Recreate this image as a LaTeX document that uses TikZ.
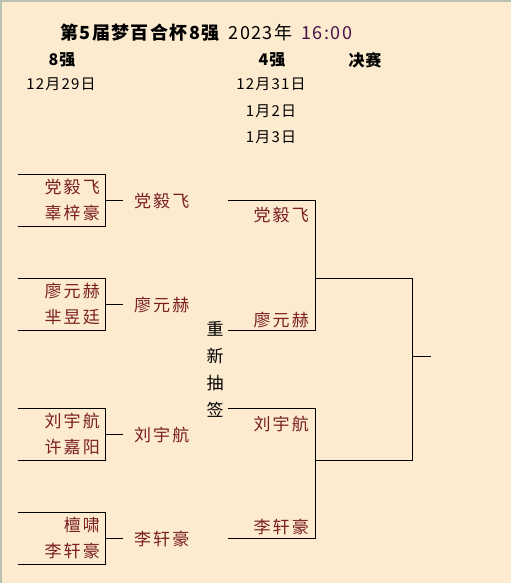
\documentclass[tikz,border=0pt]{standalone}
\usepackage{fontspec}
\setmainfont{Noto Sans CJK SC}
\definecolor{bg}{HTML}{FDEBD0}
\definecolor{namec}{HTML}{7A1F22}
\definecolor{timec}{HTML}{4A1048}
\definecolor{edge}{HTML}{B9C2B2}
\tikzset{
  bname/.style={text=namec,font=\fontsize{17}{17}\selectfont\addfontfeature{LetterSpace=12},inner sep=0pt,anchor=east},
  wname/.style={text=namec,font=\fontsize{17}{17}\selectfont\addfontfeature{LetterSpace=12},inner sep=0pt,anchor=west},
  hdr/.style={font=\fontsize{16}{16}\selectfont\bfseries\addfontfeature{LetterSpace=6},inner sep=0pt},
  dtxt/.style={font=\fontsize{15}{16}\selectfont\addfontfeature{LetterSpace=8},inner sep=0pt},
  bline/.style={draw=black,line width=1pt},
  vt/.style={font=\fontsize{17}{17}\selectfont,inner sep=0pt}
}
\begin{document}
\begin{tikzpicture}[x=1pt,y=-1pt]
\fill[bg] (0,0) rectangle (511,583);
\useasboundingbox (0,0) rectangle (511,583);
\draw[edge,line width=2pt] (1,583) -- (1,1) -- (511,1);
% title
\node[inner sep=0pt,anchor=west] (title) at (60,33) {\fontsize{18}{18}\selectfont\addfontfeature{LetterSpace=8}\bfseries 第5届梦百合杯8强\hspace{0.5em}\mdseries 2023年\hspace{0.5em}\textcolor{timec}{16:00}};
\node[hdr] (h8) at (62,60) {8强};
\node[hdr] (h4) at (272,60) {4强};
\node[hdr] (hf) at (365,60) {决赛};
\node[dtxt] (d1) at (61,84) {12月29日};
\node[dtxt] (d2) at (271,84) {12月31日};
\node[dtxt] (d3) at (271,111) {1月2日};
\node[dtxt] (d4) at (271,137) {1月3日};
% round 1 boxes
\foreach \t/\a/\b/\i in {174/党毅飞/辜梓豪/1,278/廖元赫/芈昱廷/2,408/刘宇航/许嘉阳/3,512/檀啸/李轩豪/4}{
  \coordinate (bt\i) at (18,\t);
  \coordinate (br\i) at (105,\t);
  \coordinate (bb\i) at (18,\t+52);
  \coordinate (bbr\i) at (105,\t+52);
  \coordinate (bm\i) at (105,\t+26);
  \coordinate (bc\i) at (123,\t+26);
  \draw[bline] (bt\i) -- (br\i) -- (bbr\i) -- (bb\i);
  \draw[bline] (bm\i) -- (bc\i);
  \node[bname] (pa\i) at (100,\t+13) {\a};
  \node[bname] (pb\i) at (100,\t+39) {\b};
}
\node[wname] (w1) at (134,201) {党毅飞};
\node[wname] (w2) at (134,305) {廖元赫};
\node[wname] (w3) at (134,435) {刘宇航};
\node[wname] (w4) at (134,539) {李轩豪};
% redraw
\node[vt] (r1) at (215,329) {重};
\node[vt] (r2) at (215,356) {新};
\node[vt] (r3) at (215,383) {抽};
\node[vt] (r4) at (215,410) {签};
% semifinal brackets
\coordinate (s1l) at (228,200);
\coordinate (s1r) at (315,200);
\coordinate (s2l) at (228,330);
\coordinate (s2r) at (315,330);
\coordinate (s3l) at (228,408);
\coordinate (s3r) at (315,408);
\coordinate (s4l) at (228,538);
\coordinate (s4r) at (315,538);
\coordinate (m1) at (315,278);
\coordinate (m1r) at (412,278);
\coordinate (m2) at (315,460);
\coordinate (m2r) at (412,460);
\coordinate (fm) at (412,356);
\coordinate (fe) at (431,356);
\draw[bline] (s1l) -- (s1r) -- (s2r) -- (s2l);
\draw[bline] (s3l) -- (s3r) -- (s4r) -- (s4l);
\draw[bline] (m1) -- (m1r) -- (m2r) -- (m2);
\draw[bline] (fm) -- (fe);
\node[bname] (q1) at (309,215) {党毅飞};
\node[bname] (q2) at (309,320) {廖元赫};
\node[bname] (q3) at (309,424) {刘宇航};
\node[bname] (q4) at (309,527) {李轩豪};
\end{tikzpicture}
\end{document}
